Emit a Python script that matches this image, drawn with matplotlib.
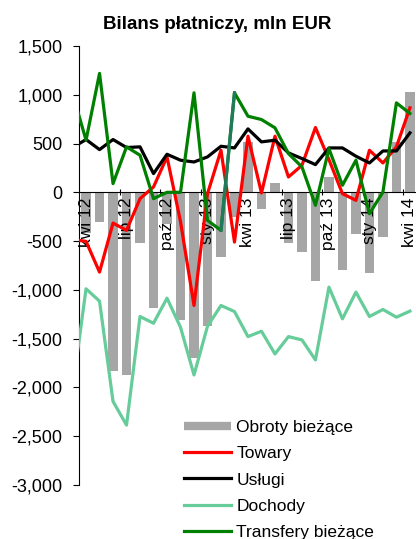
import numpy as np
import matplotlib
matplotlib.use("Agg")
import matplotlib.pyplot as plt
from matplotlib.lines import Line2D
from matplotlib.ticker import FuncFormatter

plt.rcParams['font.family'] = 'Liberation Sans'

# miesiace kwi 12 - kwi 14
months = ['kwi 12', 'maj 12', 'cze 12', 'lip 12', 'sie 12', 'wrz 12', 'paź 12', 'lis 12', 'gru 12',
          'sty 13', 'lut 13', 'mar 13', 'kwi 13', 'maj 13', 'cze 13', 'lip 13', 'sie 13', 'wrz 13',
          'paź 13', 'lis 13', 'gru 13', 'sty 14', 'lut 14', 'mar 14', 'kwi 14']

# saldo obrotow biezacych (slupki)
obroty = [-420, -305, -1828, -1872, -520, -1184, -329, -1308, -1697, -1373, -660, -250, 520,
          -168, 100, -520, -613, -904, 160, -801, -424, -828, -459, 517, 1030]

# linie zaczynaja sie od mar 12 (obciete na krawedzi wykresu)
towary = [-483, -503, -818, -315, -390, -65, 55, 363, -300, -1160, -14, 431, -510, 575, -7,
          575, 157, 277, 664, 335, -14, -82, 431, 301, 466, 866]
uslugi = [459, 541, 438, 541, 459, 466, 192, 390, 329, 311, 363, 472, 455, 650, 517, 534,
          404, 346, 284, 455, 455, 370, 301, 424, 424, 609]
dochody = [-2017, -989, -1116, -2143, -2386, -1273, -1342, -1085, -1383, -1872, -1373, -1160,
           -1222, -1479, -1424, -1657, -1479, -1513, -1718, -972, -1297, -1023, -1273, -1201,
           -1280, -1218]
transfery = [1014, 534, 1219, 89, 466, 380, -65, 0, 0, 1020, -288, -390, 1020, 780, 746, 661,
             397, 260, -133, 448, 72, 329, -219, 3, 917, 808]

x_bar = np.arange(len(months))
x_line = np.arange(-1, len(months))

fig = plt.figure(figsize=(4.16, 5.39), dpi=100)
ax = fig.add_axes([0.1906, 0.1002, 0.811, 0.8145])

ax.bar(x_bar, obroty, width=0.68, color='#a6a6a6', zorder=1)
lw = 2.3
ax.plot(x_line, towary, color='#ff0000', lw=lw, zorder=3)
ax.plot(x_line, uslugi, color='black', lw=lw, zorder=3)
ax.plot(x_line, dochody, color='#66cc99', lw=lw, zorder=3)
ax.plot(x_line, transfery, color='#008000', lw=lw, zorder=3)
# odcinek lut 13 - mar 13 ma inny odcien
ax.plot(x_line[11:13], transfery[11:13], color='#217a5b', lw=lw, zorder=3)

ax.set_xlim(-0.5, len(months) - 0.5)
ax.set_ylim(-3000, 1500)

ax.spines['top'].set_visible(False)
ax.spines['right'].set_visible(False)
ax.spines['bottom'].set_position(('data', 0))
ax.spines['bottom'].set_zorder(2)

ax.set_yticks(range(-3000, 1501, 500))
ax.yaxis.set_major_formatter(FuncFormatter(lambda v, p: f"{v:,.0f}"))
ax.tick_params(axis='y', direction='out', length=4.5, width=0.8, pad=7.5, labelsize=13)

ax.set_xticks(x_bar[::3])
ax.set_xticklabels(months[::3], rotation=90, ha='center', va='top')
ax.set_xticks(np.arange(2.5, len(months) - 1, 3), minor=True)
ax.tick_params(axis='x', which='major', length=0, pad=4, labelsize=12.5)
ax.tick_params(axis='x', which='minor', direction='inout', length=5, width=0.8)

fig.text(0.521, 0.947, 'Bilans płatniczy, mln EUR', ha='center', va='baseline',
         fontsize=13.5, fontweight='bold')

handles = [
    Line2D([], [], color='#a6a6a6', lw=6, solid_capstyle='butt'),
    Line2D([], [], color='#ff0000', lw=lw),
    Line2D([], [], color='black', lw=lw),
    Line2D([], [], color='#66cc99', lw=lw),
    Line2D([], [], color='#008000', lw=lw),
]
labels = ['Obroty bieżące', 'Towary', 'Usługi', 'Dochody', 'Transfery bieżące']
fig.legend(handles, labels, loc='upper left', bbox_to_anchor=(0.443, 0.221), frameon=False,
           fontsize=12.5, handlelength=2.7, handletextpad=0.3, labelspacing=0.64,
           borderpad=0, borderaxespad=0)

fig.savefig('out.png', dpi=100)
